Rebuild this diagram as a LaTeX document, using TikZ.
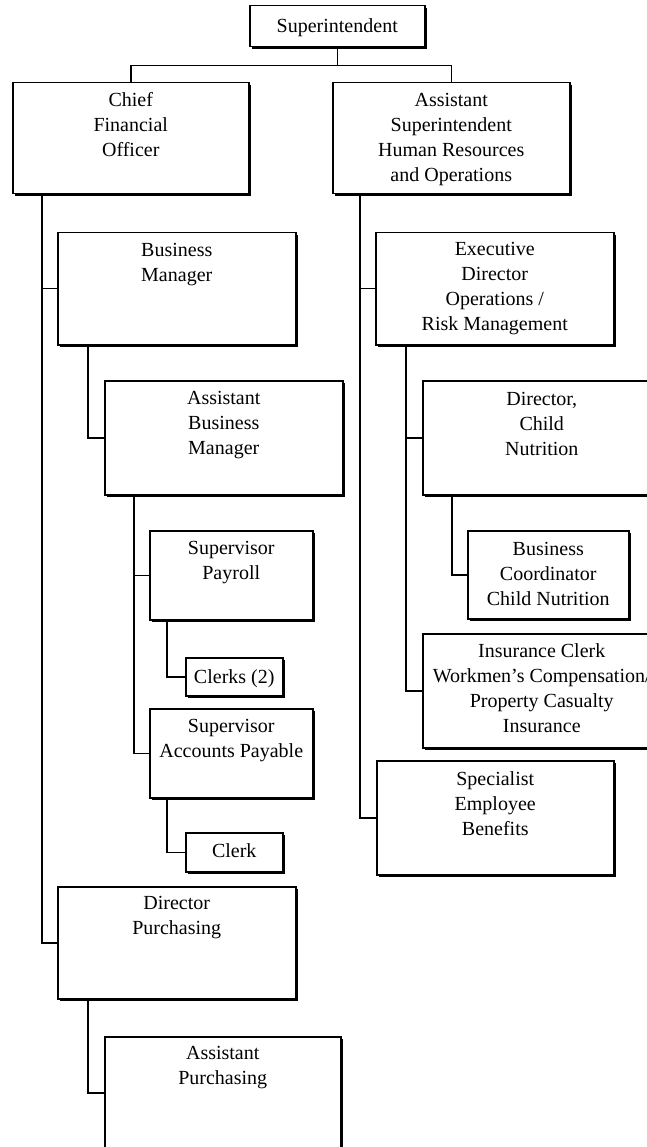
\documentclass[tikz,border=0pt]{standalone}
\usepackage{fontspec}
\setmainfont{Liberation Serif}
\usetikzlibrary{shadows}

% box text: width, height, first baseline offset, lines
\newcommand{\orgtext}[4]{%
  \parbox[t][#2pt][t]{#1pt}{\centering\fontsize{20}{25}\selectfont
    \rule{0pt}{#3pt}#4}}

\tikzset{
  orgbox/.style={draw, line width=1.5pt, fill=white, inner sep=0pt,
    anchor=north west,
    drop shadow={shadow xshift=1.8pt, shadow yshift=-1.8pt, fill=black, opacity=1}},
  link/.style={line width=1.5pt}
}

\begin{document}
\begin{tikzpicture}[x=1pt, y=-1pt]
  \useasboundingbox (0,0) rectangle (647,1147);
  \fill[white] (0,0) rectangle (647,1147);
  \clip (0,0) rectangle (647,1147);

  % top level
  \node[orgbox] (sup) at (249,5) {\orgtext{175}{41}{27}{Superintendent}};
  \node[orgbox] (cfo) at (12,82) {\orgtext{236}{111}{24}{Chief\\Financial\\Officer}};
  \node[orgbox] (ash) at (332,82) {\orgtext{237}{111}{24}{Assistant\\Superintendent\\Human Resources\\and Operations}};

  % finance branch
  \node[orgbox] (bm) at (57,232) {\orgtext{238}{112}{24}{Business\\Manager}};
  \node[orgbox] (abm) at (104,380) {\orgtext{238}{114}{24}{Assistant\\Business\\Manager}};
  \node[orgbox] (sp) at (149,530) {\orgtext{163}{89}{24}{Supervisor\\Payroll}};
  \node[orgbox] (cl2) at (185,657) {\orgtext{97}{38}{26}{Clerks (2)}};
  \node[orgbox] (sap) at (149,708) {\orgtext{163}{89}{24}{Supervisor\\Accounts Payable}};
  \node[orgbox] (clk) at (185,832) {\orgtext{97}{39}{25}{Clerk}};
  \node[orgbox] (dp) at (57,886) {\orgtext{238}{112}{23}{Director\\Purchasing}};
  \node[orgbox] (ap) at (104,1036) {\orgtext{236}{112}{23}{Assistant\\Purchasing}};

  % human resources / operations branch
  \node[orgbox] (ed) at (375,232) {\orgtext{238}{112}{23}{Executive\\Director\\Operations /\\Risk Management}};
  \node[orgbox] (dcn) at (422,380) {\orgtext{238}{114}{25}{Director,\\Child\\Nutrition}};
  \node[orgbox] (bc) at (467,530) {\orgtext{161}{88}{25}{Business\\Coordinator\\Child Nutrition}};
  \node[orgbox] (ic) at (422,633) {\orgtext{238}{114}{24}{Insurance Clerk\\Workmen's Compensation/\\Property Casualty\\Insurance}};
  \node[orgbox] (spec) at (376,760) {\orgtext{237}{114}{25}{Specialist\\Employee\\Benefits}};

  % connectors
  \draw[link] (sup.south) -- ++(0,18) -| (cfo.north);
  \draw[link] (sup.south) -- ++(0,18) -| (ash.north);

  \draw[link] ([xshift=30pt]cfo.south west) |- (bm.west);
  \draw[link] ([xshift=30pt]cfo.south west) |- (dp.west);
  \draw[link] ([xshift=31pt]bm.south west) |- (abm.west);
  \draw[link] ([xshift=30pt]abm.south west) |- (sp.west);
  \draw[link] ([xshift=30pt]abm.south west) |- (sap.west);
  \draw[link] ([xshift=18pt]sp.south west) |- (cl2.west);
  \draw[link] ([xshift=18pt]sap.south west) |- (clk.west);
  \draw[link] ([xshift=31pt]dp.south west) |- (ap.west);

  \draw[link] ([xshift=28pt]ash.south west) |- (ed.west);
  \draw[link] ([xshift=28pt]ash.south west) |- (spec.west);
  \draw[link] ([xshift=31pt]ed.south west) |- (dcn.west);
  \draw[link] ([xshift=31pt]ed.south west) |- (ic.west);
  \draw[link] ([xshift=30pt]dcn.south west) |- (bc.west);
\end{tikzpicture}
\end{document}
